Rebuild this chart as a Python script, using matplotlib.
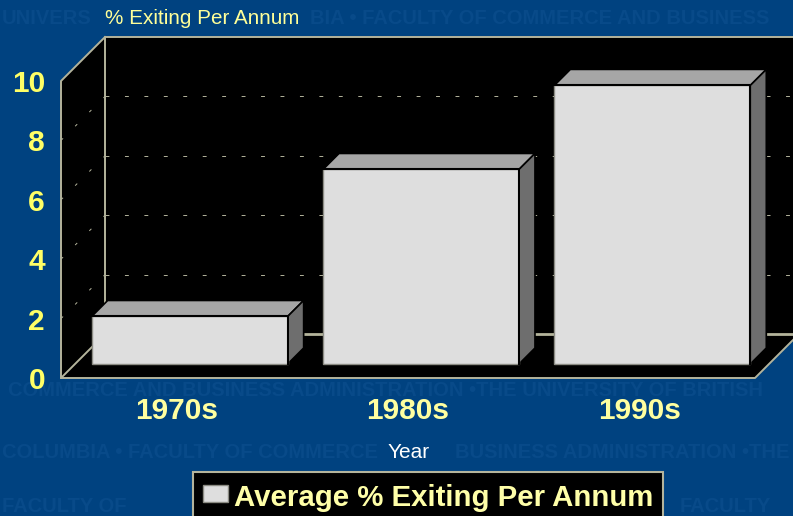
import matplotlib
matplotlib.use("Agg")
import matplotlib.pyplot as plt
from matplotlib.patches import Patch, Polygon

plt.rcParams['font.family'] = ['Liberation Sans', 'DejaVu Sans']

categories = ["1970s", "1980s", "1990s"]
values = [1.6, 6.55, 9.38]
y_ticks = [0, 2, 4, 6, 8, 10]
grid_values = [2, 4, 6, 8]
series_name = "Average % Exiting Per Annum"
y_title = "% Exiting Per Annum"
x_title = "Year"
# pieces of the faint background text, only where the chart leaves it visible
watermark = [
    (2, 19, "UNIVERS"),
    (310, 19, "BIA • FACULTY OF COMMERCE AND BUSINESS"),
    (8, 390, "COMMERCE AND BUSINESS ADMINISTRATION •THE UNIVERSITY OF BRITISH"),
    (2, 452, "COLUMBIA • FACULTY OF COMMERCE"),
    (455, 452, "BUSINESS ADMINISTRATION •THE"),
    (2, 506, "FACULTY OF"),
    (680, 506, "FACULTY"),
]

W, H = 793, 516
BG = "#004280"
WALL_LINE = "#b4b49c"
YELLOW = "#ffff99"

fig = plt.figure(figsize=(W / 100, H / 100), dpi=100, facecolor=BG)

for x0, y0, txt in watermark:
    fig.text(x0 / W, 1 - y0 / H, txt, color="#084a89", fontsize=14.5, fontweight="bold",
             va="center", ha="left", zorder=0)

# axes box is the front plane of the 3d chart
left, right, top, bottom = 61, 755, 81, 378
ax = fig.add_axes([left / W, 1 - bottom / H, (right - left) / W, (bottom - top) / H])
ax.set_zorder(2)
ax.patch.set_alpha(0)
ax.set_xlim(-0.5, 2.5)
ax.set_ylim(0, 10)
for s in ax.spines.values():
    s.set_visible(False)

# depth in px turned into data units
px_x = 3 / (right - left)
px_y = 10 / (bottom - top)


def shift(x, y, depth):
    return x + depth * px_x, y + depth * px_y


DEPTH = 44
wall = [(-0.5, 0), (-0.5, 10), shift(-0.5, 10, DEPTH), shift(2.5, 10, DEPTH),
        shift(2.5, 0, DEPTH), (2.5, 0)]
ax.add_patch(Polygon(wall, closed=True, fc="black", ec="none", clip_on=False, zorder=1))

# gridlines on the back wall and side wall
for g in grid_values:
    ax.plot(*zip(shift(-0.5, g, DEPTH), shift(2.5, g, DEPTH)), color=WALL_LINE, lw=0.7,
            dashes=(4, 16), clip_on=False, zorder=2)
    ax.plot(*zip((-0.5, g), shift(-0.5, g, DEPTH)), color=WALL_LINE, lw=0.7,
            dashes=(3, 17.6), clip_on=False, zorder=2)

line_kw = dict(color=WALL_LINE, clip_on=False, solid_capstyle="projecting")
ax.plot(*zip(shift(-0.5, 0, DEPTH), shift(2.5, 0, DEPTH)), lw=2, zorder=2, **line_kw)
ax.plot(*zip(shift(-0.5, 0, DEPTH), shift(-0.5, 10, DEPTH), shift(2.5, 10, DEPTH)), lw=1.4, zorder=2, **line_kw)
ax.plot(*zip((-0.5, 0), (-0.5, 10), shift(-0.5, 10, DEPTH)), lw=1.4, zorder=2, **line_kw)
ax.plot(*zip(shift(-0.5, 0, DEPTH), (-0.5, 0), (2.5, 0), shift(2.5, 0, DEPTH)), lw=1.4, zorder=2, **line_kw)

# bars: front face plus top and side faces
bar_w = 0.847
FRONT = 14
BACK = 30
for i, v in enumerate(values):
    x0, x1 = i - bar_w / 2 - px_x, i + bar_w / 2 - px_x
    fl_b, fl_t = shift(x0, 0, FRONT), shift(x0, v, FRONT)
    fr_b, fr_t = shift(x1, 0, FRONT), shift(x1, v, FRONT)
    bl_t, br_t, br_b = shift(x0, v, BACK), shift(x1, v, BACK), shift(x1, 0, BACK)
    ax.add_patch(Polygon([fl_t, bl_t, br_t, fr_t], closed=True, fc="#a6a6a6", ec="black", lw=1.2,
                         clip_on=False, zorder=3))
    ax.add_patch(Polygon([fr_b, fr_t, br_t, br_b], closed=True, fc="#6e6e6e", ec="black", lw=1.2,
                         clip_on=False, zorder=3))
    ax.add_patch(Polygon([fl_b, fl_t, fr_t, fr_b], closed=True, fc="#dedede", ec="#8c8c84", lw=1,
                         clip_on=False, zorder=4))
    ax.plot(*zip(fl_t, fr_t, fr_b), color="black", lw=1.5, clip_on=False, zorder=5)

ax.set_xticks(range(len(categories)))
ax.set_xticklabels(categories)
ax.set_yticks(y_ticks)
ax.tick_params(axis="x", length=0, pad=14, labelsize=21.5, labelcolor="#ffffa0")
ax.tick_params(axis="y", length=0, pad=11.5, labelsize=21.5, labelcolor="#ffff66")
for lab in ax.get_xticklabels() + ax.get_yticklabels():
    lab.set_fontweight("bold")

fig.text(105 / W, 1 - 19 / H, y_title, color=YELLOW, fontsize=14.9, va="center", ha="left", zorder=3)
fig.text(409 / W, 1 - 452 / H, x_title, color="white", fontsize=15, va="center", ha="center", zorder=3)

# legend box runs slightly off the bottom of the picture
leg = fig.legend(handles=[Patch(fc="#dedede", ec="#8c8c84", label=series_name)],
                 loc="upper left", bbox_to_anchor=(193 / W, 1 - 472 / H),
                 frameon=True, fancybox=False, facecolor="black", edgecolor=WALL_LINE,
                 framealpha=1, borderaxespad=0, borderpad=0.34,
                 handlelength=0.85, handleheight=0.55, handletextpad=0.2,
                 labelcolor="#ffffa8", prop={"weight": "bold", "size": 21.2})
leg.get_frame().set_linewidth(1.5)
leg.get_texts()[0].set_y(-2)

fig.savefig("out.png", dpi=100, facecolor=BG)
